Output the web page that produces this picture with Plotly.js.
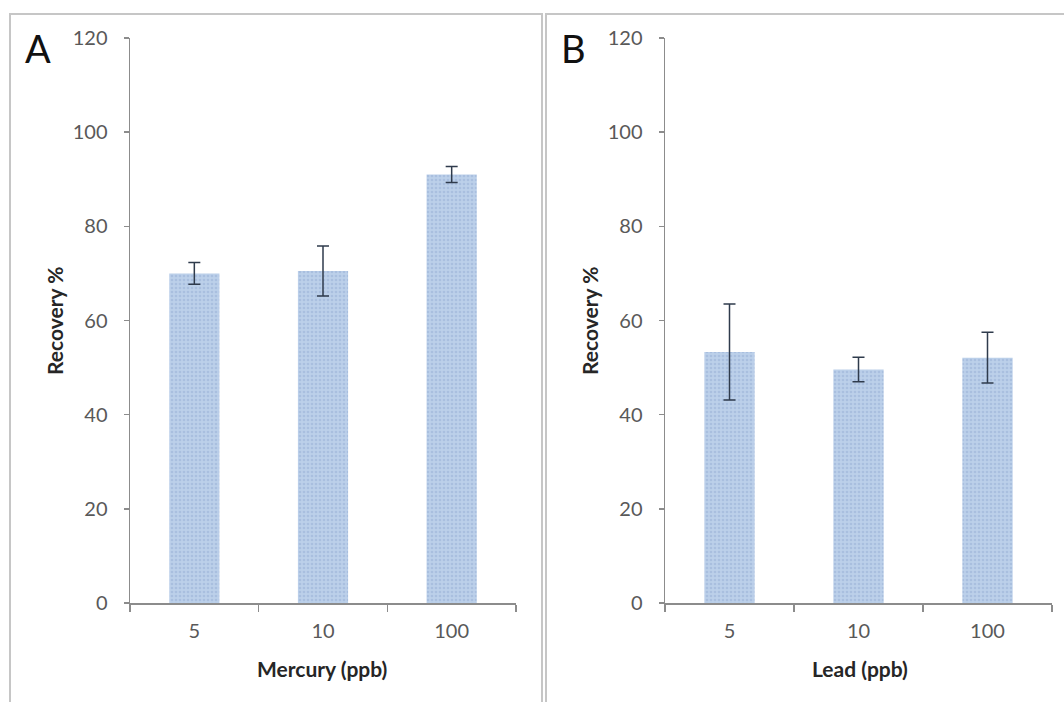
<!DOCTYPE html>
<html>
<head>
<meta charset="utf-8">
<script src="https://cdn.plot.ly/plotly-3.0.1.min.js"></script>
<style>html,body{margin:0;padding:0;background:#fff}#chart{width:1064px;height:702px}</style>
</head>
<body>
<div id="chart"></div>
<script>
const categories = ["5", "10", "100"];
const mercuryRecovery = [70.0, 70.5, 91.0];
const mercuryError = [2.3, 5.3, 1.7];
const leadRecovery = [53.3, 49.6, 52.1];
const leadError = [10.2, 2.6, 5.4];
const yTicks = [0, 20, 40, 60, 80, 100, 120];

const W = 1064, H = 702;
const px = v => v / W;
const py = v => 1 - v / H;

const barColor = '#bcd0ea';
const errColor = '#2f3b4c';
const tickFont = {family: 'Lato, "Open Sans", sans-serif', size: 20, color: '#595959'};
const titleFont = {family: 'Lato, "Open Sans", sans-serif', size: 21, color: '#262626', weight: 'bold'};

function barTrace(y, err, xa, ya) {
  return {
    type: 'bar', x: categories, y: y, xaxis: xa, yaxis: ya, width: 0.39,
    marker: {color: barColor, line: {width: 0},
      pattern: {shape: '.', fgcolor: '#a9bfdf', bgcolor: barColor, size: 4, solidity: 0.35}},
    error_y: {type: 'data', array: err, visible: true, color: errColor, thickness: 1.5, width: 6},
    hoverinfo: 'x+y', showlegend: false
  };
}

function xAxis(domain, anchor) {
  return {
    domain: domain, anchor: anchor, type: 'category', tickson: 'boundaries',
    showline: true, linecolor: '#8c8c8c', linewidth: 1.5, ticks: 'outside', ticklen: 7,
    tickcolor: '#8c8c8c', tickwidth: 1.5, tickfont: tickFont, showgrid: false, zeroline: false,
    ticklabelstandoff: 9, fixedrange: true
  };
}
function yAxis(domain, anchor) {
  return {
    domain: domain, anchor: anchor, range: [0, 120], tickvals: yTicks,
    showline: true, linecolor: '#8c8c8c', linewidth: 1.5, ticks: 'outside', ticklen: 5,
    tickcolor: '#8c8c8c', tickwidth: 1.5, tickfont: tickFont, showgrid: false, zeroline: false,
    ticklabelstandoff: 12, fixedrange: true
  };
}

function ann(text, x, y, font, angle) {
  return {text: text, xref: 'paper', yref: 'paper', x: px(x), y: py(y), xanchor: 'center',
    yanchor: 'middle', showarrow: false, font: font, textangle: angle || 0};
}

const letterFont = {family: 'Lato, "Open Sans", sans-serif', size: 38, color: '#111'};
const yDom = [py(603), py(38)];
const layout = {
  width: W, height: H, margin: {l: 0, r: 0, t: 0, b: 0},
  paper_bgcolor: '#fff', plot_bgcolor: '#fff', bargap: 0.61,
  xaxis: xAxis([px(130), px(516)], 'y'),
  yaxis: yAxis(yDom, 'x'),
  xaxis2: xAxis([px(665), px(1052)], 'y2'),
  yaxis2: yAxis(yDom, 'x2'),
  shapes: [
    {type: 'rect', xref: 'paper', yref: 'paper', x0: px(10), x1: px(542), y0: py(720), y1: py(14),
      line: {color: '#c6c6c6', width: 2}},
    {type: 'rect', xref: 'paper', yref: 'paper', x0: px(546), x1: px(1080), y0: py(720), y1: py(14),
      line: {color: '#c6c6c6', width: 2}}
  ],
  annotations: [
    ann('A', 38, 48, letterFont),
    ann('B', 573, 48, letterFont),
    ann('Recovery %', 55, 321, titleFont, -90),
    ann('Recovery %', 590, 321, titleFont, -90),
    ann('Mercury (ppb)', 322, 668, titleFont),
    ann('Lead (ppb)', 860, 668, titleFont)
  ]
};

Plotly.newPlot('chart', [
  barTrace(mercuryRecovery, mercuryError, 'x', 'y'),
  barTrace(leadRecovery, leadError, 'x2', 'y2')
], layout, {displayModeBar: false, staticPlot: true});
</script>
</body>
</html>
